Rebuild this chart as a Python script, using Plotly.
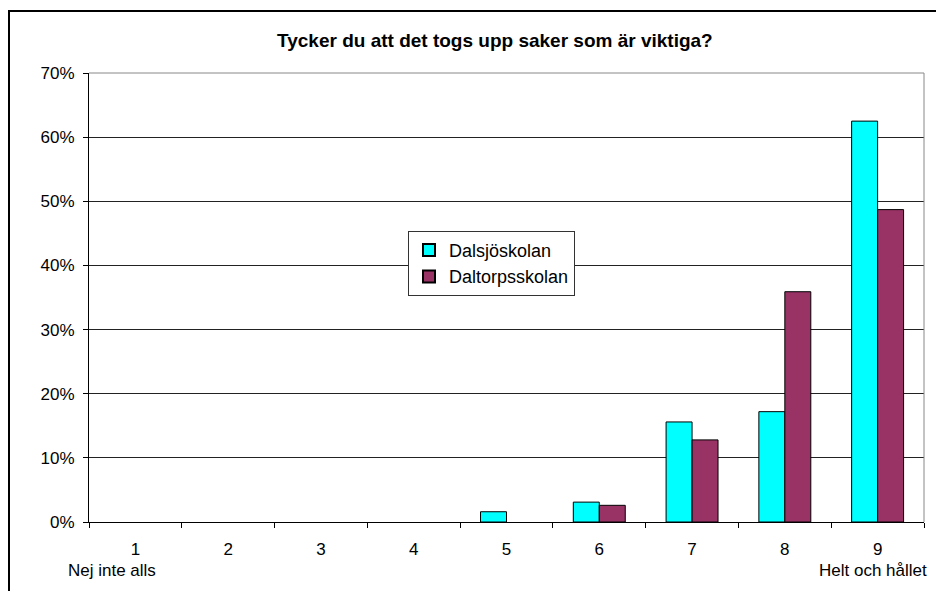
import plotly.graph_objects as go

categories = ["1", "2", "3", "4", "5", "6", "7", "8", "9"]
dalsjo = [0, 0, 0, 0, 1.6, 3.1, 15.6, 17.2, 62.5]
daltorp = [0, 0, 0, 0, 0, 2.6, 12.8, 35.9, 48.7]
series_names = ["Dalsjöskolan", "Daltorpsskolan"]
title_text = "Tycker du att det togs upp saker som är viktiga?"
low_label = "Nej inte alls"
high_label = "Helt och hållet"

# page has an 8px body margin; figure coordinates are page coordinates - 8
OFF = 8
W, H = 936, 583
L, R, T, B = 89 - OFF, 924 - OFF, 73 - OFF, 522.5 - OFF


def px(x_page):
    return (x_page - OFF - L) / (R - L)


def py(y_page):
    return (B - (y_page - OFF)) / (B - T)


font = "Liberation Sans, Arial, sans-serif"

fig = go.Figure()
fig.add_trace(go.Bar(x=categories, y=dalsjo, name=series_names[0],
                     marker=dict(color="#00FFFF",
                                 line=dict(color="black", width=[0 if v == 0 else 1 for v in dalsjo]))))
fig.add_trace(go.Bar(x=categories, y=daltorp, name=series_names[1],
                     marker=dict(color="#993366",
                                 line=dict(color="black", width=[0 if v == 0 else 1 for v in daltorp]))))

fig.update_layout(
    width=W, height=H,
    margin=dict(l=L, r=W - R, t=T, b=H - B),
    paper_bgcolor="white", plot_bgcolor="white",
    font=dict(family=font, size=17, color="black"),
    barmode="group", bargap=0.44, bargroupgap=0,
    showlegend=True,
    legend=dict(x=px(408), y=py(231), xanchor="left", yanchor="top",
                bgcolor="white", bordercolor="#333333", borderwidth=1,
                font=dict(size=18), tracegroupgap=0, itemwidth=30,
                itemsizing="constant"),
    xaxis=dict(type="category", tickson="boundaries", ticks="outside", ticklen=5,
               tickcolor="black", showline=True, linecolor="black", linewidth=1,
               showgrid=False, tickfont=dict(size=17), range=[-0.5, 8.5],
               ticklabelstandoff=12),
    yaxis=dict(range=[0, 70], dtick=10, ticksuffix="%", ticks="outside", ticklen=5,
               tickcolor="black", showline=True, linecolor="black", linewidth=1,
               showgrid=True, gridcolor="#222222", gridwidth=1, zeroline=False,
               tickfont=dict(size=17), ticklabelstandoff=5),
    annotations=[
        dict(text="<b>" + title_text + "</b>", x=px(495), y=py(40), xref="paper", yref="paper",
             showarrow=False, font=dict(size=19), xanchor="center", yanchor="middle"),
        dict(text=low_label, x=px(111.7), y=py(571), xref="paper", yref="paper",
             showarrow=False, font=dict(size=17), xanchor="center", yanchor="middle"),
        dict(text=high_label, x=px(872.5), y=py(571), xref="paper", yref="paper",
             showarrow=False, font=dict(size=17), xanchor="center", yanchor="middle"),
    ],
    shapes=[
        # plot-area top and right border (gray)
        dict(type="line", xref="paper", yref="paper", x0=0, x1=1, y0=1, y1=1,
             line=dict(color="#888888", width=1)),
        dict(type="line", xref="paper", yref="paper", x0=1, x1=1, y0=0, y1=1,
             line=dict(color="#888888", width=1)),
        # outer chart frame
        dict(type="line", xref="paper", yref="paper", x0=px(8), x1=px(950), y0=py(11), y1=py(11),
             line=dict(color="black", width=2)),
        dict(type="line", xref="paper", yref="paper", x0=px(9), x1=px(9), y0=py(10), y1=py(600),
             line=dict(color="black", width=2)),
    ],
)

fig.write_html("out.html")
